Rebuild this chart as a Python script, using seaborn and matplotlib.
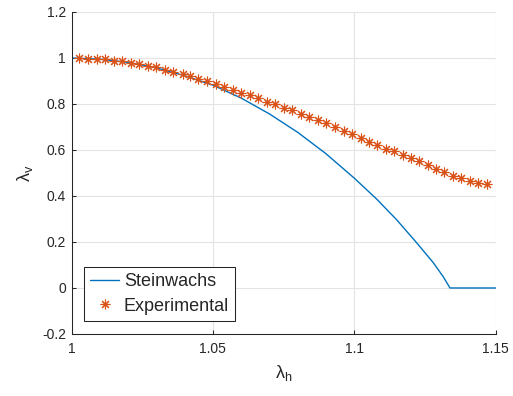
import matplotlib
matplotlib.use("Agg")
import matplotlib.pyplot as plt
import seaborn as sns
import pandas as pd

# ---- data ----
stein_x = [1.000, 1.010, 1.020, 1.030, 1.040, 1.050, 1.060, 1.070, 1.080, 1.090,
           1.100, 1.108, 1.115, 1.122, 1.128, 1.1315, 1.1339, 1.150]
stein_y = [1.000, 0.995, 0.981, 0.957, 0.923, 0.882, 0.826, 0.757, 0.677, 0.584,
           0.478, 0.386, 0.297, 0.198, 0.110, 0.049, 0.000, 0.000]

exp_x = [1.0028, 1.0059, 1.0091, 1.0119, 1.0151, 1.0178, 1.0211, 1.0240, 1.0270, 1.0299,
         1.0331, 1.0360, 1.0393, 1.0419, 1.0449, 1.0478, 1.0511, 1.0540, 1.0570, 1.0600,
         1.0631, 1.0660, 1.0693, 1.0720, 1.0750, 1.0779, 1.0811, 1.0841, 1.0873, 1.0900,
         1.0932, 1.0963, 1.0993, 1.1023, 1.1052, 1.1080, 1.1112, 1.1141, 1.1172, 1.1201,
         1.1230, 1.1260, 1.1289, 1.1318, 1.1349, 1.1379, 1.1408, 1.1439, 1.1470]
exp_y = [1.000, 0.997, 0.996, 0.994, 0.989, 0.987, 0.980, 0.973, 0.967, 0.960,
         0.948, 0.940, 0.930, 0.922, 0.910, 0.898, 0.886, 0.876, 0.860, 0.848,
         0.838, 0.825, 0.809, 0.798, 0.783, 0.772, 0.757, 0.744, 0.731, 0.716,
         0.699, 0.683, 0.671, 0.654, 0.633, 0.623, 0.605, 0.594, 0.577, 0.564,
         0.550, 0.534, 0.517, 0.503, 0.488, 0.478, 0.467, 0.458, 0.452]

x_ticks = [1.0, 1.05, 1.1, 1.15]
x_tick_labels = ["1", "1.05", "1.1", "1.15"]
y_ticks = [-0.2, 0.0, 0.2, 0.4, 0.6, 0.8, 1.0, 1.2]
y_tick_labels = ["-0.2", "0", "0.2", "0.4", "0.6", "0.8", "1", "1.2"]

series_names = ["Steinwachs", "Experimental"]

df_stein = pd.DataFrame({"lh": stein_x, "lv": stein_y})
df_exp = pd.DataFrame({"lh": exp_x, "lv": exp_y})

# ---- style ----
sns.set_style("white")
plt.rcParams["font.family"] = ["Liberation Sans", "DejaVu Sans"]
plt.rcParams["mathtext.fontset"] = "custom"
plt.rcParams["mathtext.rm"] = "Liberation Sans"
plt.rcParams["mathtext.it"] = "Liberation Sans"
plt.rcParams["mathtext.bf"] = "Liberation Sans:bold"

TXT = "#262626"
BLUE = "#0072BD"
ORANGE = "#D95319"

fig = plt.figure(figsize=(5.13, 3.96), dpi=100)
ax = fig.add_axes([0.1394, 0.1566, 0.8265, 0.8131])

sns.lineplot(data=df_stein, x="lh", y="lv", ax=ax, color=BLUE, linewidth=1.0,
             label=series_names[0], estimator=None, sort=False)
sns.lineplot(data=df_exp, x="lh", y="lv", ax=ax, color=ORANGE, linestyle="none",
             marker=(8, 2, 0), markersize=7, markeredgewidth=0.8,
             markeredgecolor=ORANGE, markerfacecolor=ORANGE,
             label=series_names[1], estimator=None, sort=False)

ax.set_xlim(1.0, 1.15)
ax.set_ylim(-0.2, 1.2)
ax.set_xticks(x_ticks)
ax.set_xticklabels(x_tick_labels)
ax.set_yticks(y_ticks)
ax.set_yticklabels(y_tick_labels)

ax.grid(True, color="#e3e3e3", linewidth=0.8)
ax.set_axisbelow(True)
for s in ["top", "right"]:
    ax.spines[s].set_visible(False)
for s in ["left", "bottom"]:
    ax.spines[s].set_color(TXT)
    ax.spines[s].set_linewidth(0.75)

ax.tick_params(axis="both", direction="in", length=3, width=0.75, color=TXT,
               labelsize=10, labelcolor=TXT, bottom=True, left=True)
ax.tick_params(axis="x", pad=6)
ax.tick_params(axis="y", pad=4)

ax.set_xlabel(r"$\lambda_{\rm h}$", fontsize=13, color=TXT, labelpad=5)
ax.set_ylabel(r"$\lambda_{\rm v}$", fontsize=13, color=TXT, labelpad=5)

leg = ax.legend(loc="lower left", bbox_to_anchor=(0.0295, 0.0404), borderaxespad=0,
                fontsize=13, frameon=True, fancybox=False, edgecolor=TXT,
                framealpha=1, handlelength=1.6, handletextpad=0.25,
                borderpad=0.35, labelspacing=0.42)
leg.get_frame().set_linewidth(0.75)

fig.savefig("out.png", dpi=100)
